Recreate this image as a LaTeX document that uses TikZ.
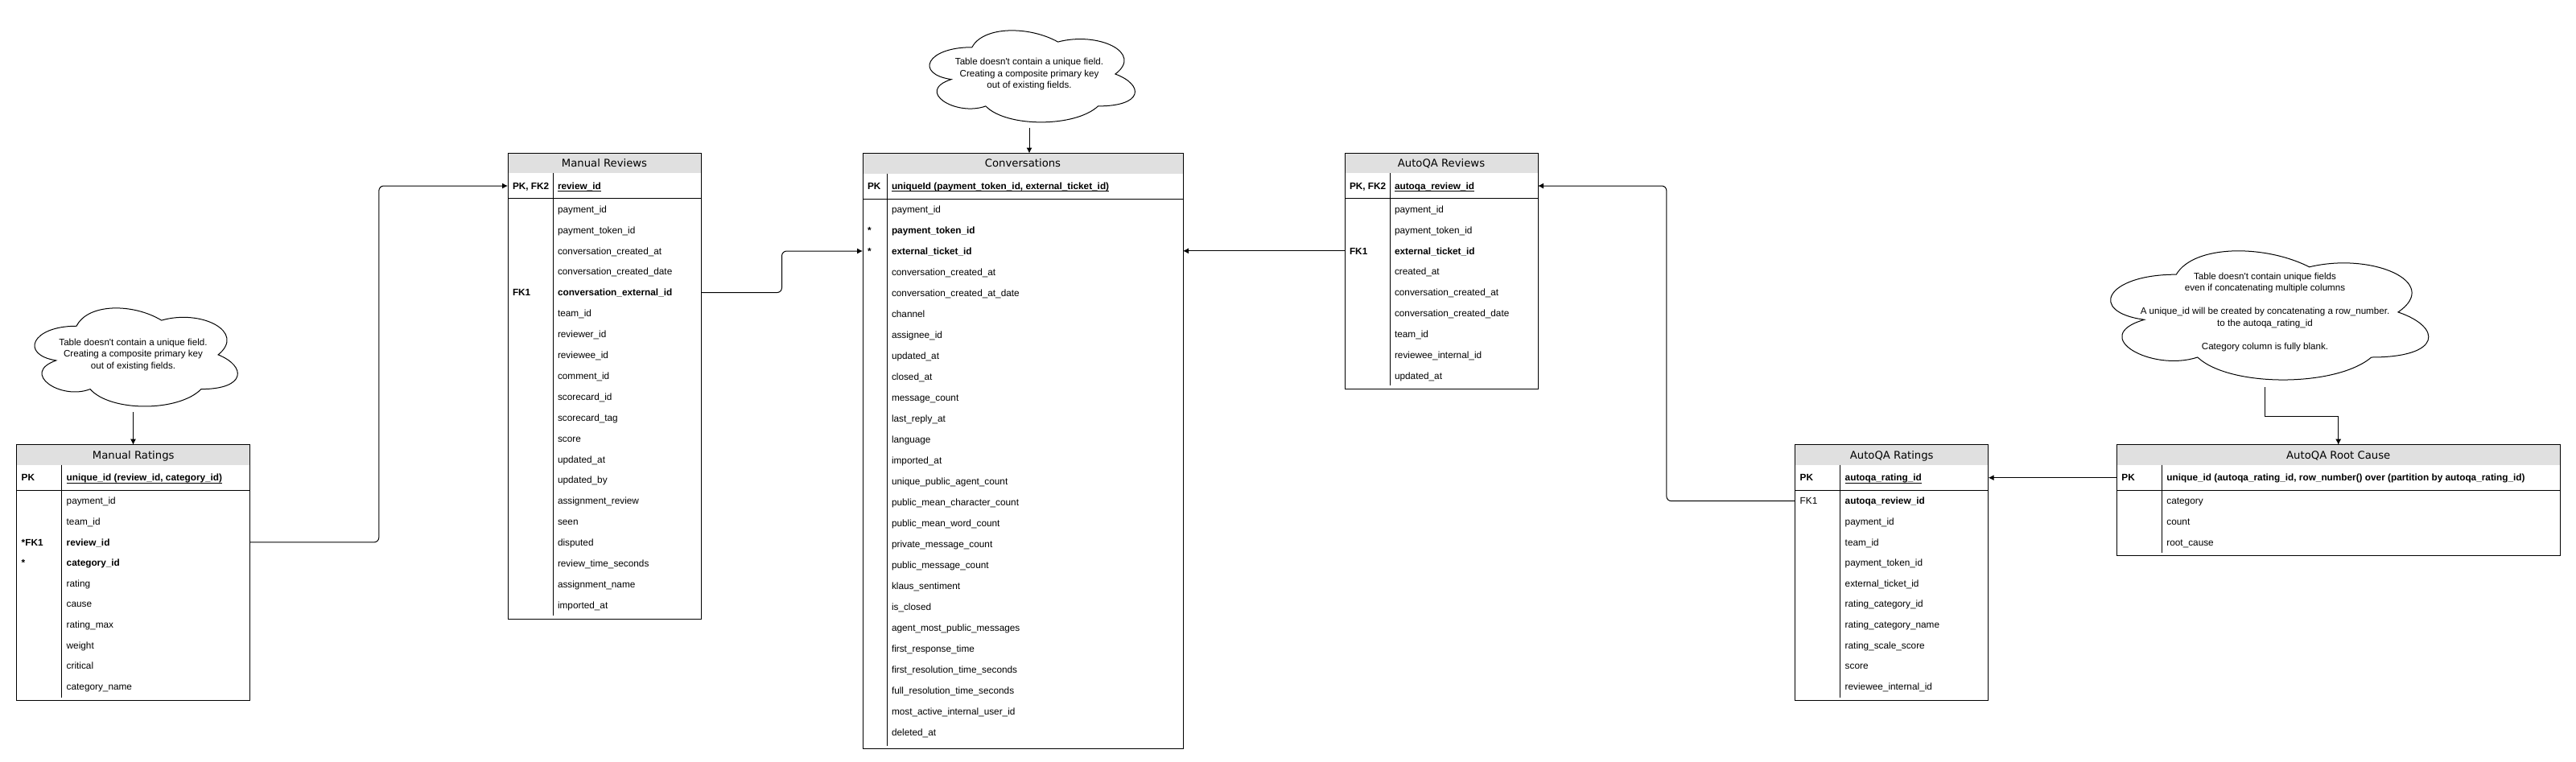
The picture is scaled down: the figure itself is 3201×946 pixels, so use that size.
\documentclass[tikz,border=0pt]{standalone}
\usepackage{fontspec}
\usepackage{tikz}
\usetikzlibrary{arrows.meta,calc}
\newfontfamily\tblfont{Liberation Sans}
\newfontfamily\headfont{DejaVu Sans}
\definecolor{headgray}{HTML}{E0E0E0}
\newsavebox{\pkbox}
\newcommand{\pkfield}[1]{\sbox{\pkbox}{#1}\rlap{\rule[-2.6pt]{\wd\pkbox}{0.9pt}}\usebox{\pkbox}}
\tikzset{%
  >={Latex[width=7pt,length=7pt]},
  % Specifications for style of nodes:
       tblhead/.style = {rectangle, anchor=north west, fill=headgray,
                         minimum height=25pt, text height=9.6pt, text depth=0pt,
                         font=\headfont\fontsize{13.2}{16}\selectfont},
        tblbox/.style = {rectangle, anchor=north west, draw=black},
        fldtxt/.style = {anchor=west, text height=8.4pt, text depth=0pt,
                         font=\tblfont\fontsize{11.8}{14}\selectfont},
        keytxt/.style = {fldtxt, xshift=6pt,
                         font=\tblfont\fontsize{11.8}{14}\selectfont\bfseries},
       notebox/.style = {rectangle, anchor=north west, align=center,
                         font=\tblfont\fontsize{11.6}{14.5}\selectfont},
  cloud outline/.style = {insert path={(0.25,0.25) .. controls (0.05,0.25) and (0,0.5) .. (0.16,0.55)
                          .. controls (0,0.66) and (0.18,0.9) .. (0.31,0.8)
                          .. controls (0.4,1) and (0.7,1) .. (0.8,0.8)
                          .. controls (1,0.8) and (1,0.6) .. (0.875,0.5)
                          .. controls (1,0.3) and (0.8,0.1) .. (0.625,0.2)
                          .. controls (0.5,0.05) and (0.3,0.05) .. (0.25,0.25) -- cycle}},
}

\begin{document}
\begin{tikzpicture}[x=1pt, y=-1pt, line width=1pt,
    every node/.style={inner sep=0pt, outer sep=0pt}]
\useasboundingbox[fill=white] (0,0) rectangle (3201,946);

% Manual Ratings
\node (mratHead) at (20.7,552.7) [tblhead, minimum width=290] {Manual Ratings};
\node (mrat) at (mratHead.north west) [tblbox, minimum width=290, minimum height=318] {};
\draw ([yshift=-56.5]mrat.north west) -- ([yshift=-56.5]mrat.north east);
\draw ([xshift=56,yshift=-25]mrat.north west) -- ([xshift=56,yshift=4]mrat.south west);
\node (mratPk) at ([xshift=62,yshift=-41]mrat.north west) [fldtxt] {\textbf{\pkfield{unique\_id (review\_id, category\_id)}}};
\node at (mrat.west |- mratPk) [keytxt] {PK};
\foreach \fld [count=\i] in {payment\_id, team\_id, \textbf{review\_id}, \textbf{category\_id},
    rating, cause, rating\_max, weight, critical, category\_name}
  \node (mrat-\i) at ([xshift=62,yshift={-44.4-25.6*\i}]mrat.north west) [fldtxt] {\fld};
\node at (mrat.west |- mrat-3) [keytxt] {*FK1};
\node at (mrat.west |- mrat-4) [keytxt] {*};

% Manual Reviews
\node (mrevHead) at (631,190) [tblhead, minimum width=240] {Manual Reviews};
\node (mrev) at (mrevHead.north west) [tblbox, minimum width=240, minimum height=579] {};
\draw ([yshift=-56.5]mrev.north west) -- ([yshift=-56.5]mrev.north east);
\draw ([xshift=56,yshift=-25]mrev.north west) -- ([xshift=56,yshift=4]mrev.south west);
\node (mrevPk) at ([xshift=62,yshift=-41]mrev.north west) [fldtxt] {\textbf{\pkfield{review\_id}}};
\node at (mrev.west |- mrevPk) [keytxt] {PK, FK2};
\foreach \fld [count=\i] in {payment\_id, payment\_token\_id, conversation\_created\_at,
    conversation\_created\_date, \textbf{conversation\_external\_id}, team\_id, reviewer\_id,
    reviewee\_id, comment\_id, scorecard\_id, scorecard\_tag, score, updated\_at, updated\_by,
    assignment\_review, seen, disputed, review\_time\_seconds, assignment\_name, imported\_at}
  \node (mrev-\i) at ([xshift=62,yshift={-44.1-25.9*\i}]mrev.north west) [fldtxt] {\fld};
\node at (mrev.west |- mrev-5) [keytxt] {FK1};

% Conversations
\node (convHead) at (1072,190.5) [tblhead, minimum width=398] {Conversations};
\node (conv) at (convHead.north west) [tblbox, minimum width=398, minimum height=740] {};
\draw ([yshift=-56.5]conv.north west) -- ([yshift=-56.5]conv.north east);
\draw ([xshift=30,yshift=-25]conv.north west) -- ([xshift=30,yshift=4]conv.south west);
\node (convPk) at ([xshift=36,yshift=-41]conv.north west) [fldtxt] {\textbf{\pkfield{uniqueId (payment\_token\_id, external\_ticket\_id)}}};
\node at (conv.west |- convPk) [keytxt] {PK};
\foreach \fld [count=\i] in {payment\_id, \textbf{payment\_token\_id}, \textbf{external\_ticket\_id},
    conversation\_created\_at, conversation\_created\_at\_date, channel, assignee\_id, updated\_at,
    closed\_at, message\_count, last\_reply\_at, language, imported\_at, unique\_public\_agent\_count,
    public\_mean\_character\_count, public\_mean\_word\_count, private\_message\_count,
    public\_message\_count, klaus\_sentiment, is\_closed, agent\_most\_public\_messages,
    first\_response\_time, first\_resolution\_time\_seconds, full\_resolution\_time\_seconds,
    most\_active\_internal\_user\_id, deleted\_at}
  \node (conv-\i) at ([xshift=36,yshift={-43.5-26*\i}]conv.north west) [fldtxt] {\fld};
\node at (conv.west |- conv-2) [keytxt] {*};
\node at (conv.west |- conv-3) [keytxt] {*};

% AutoQA Reviews
\node (arevHead) at (1671,190) [tblhead, minimum width=240] {AutoQA Reviews};
\node (arev) at (arevHead.north west) [tblbox, minimum width=240, minimum height=293] {};
\draw ([yshift=-56.5]arev.north west) -- ([yshift=-56.5]arev.north east);
\draw ([xshift=56,yshift=-25]arev.north west) -- ([xshift=56,yshift=4]arev.south west);
\node (arevPk) at ([xshift=62,yshift=-41]arev.north west) [fldtxt] {\textbf{\pkfield{autoqa\_review\_id}}};
\node at (arev.west |- arevPk) [keytxt] {PK, FK2};
\foreach \fld [count=\i] in {payment\_id, payment\_token\_id, \textbf{external\_ticket\_id},
    created\_at, conversation\_created\_at, conversation\_created\_date, team\_id,
    reviewee\_internal\_id, updated\_at}
  \node (arev-\i) at ([xshift=62,yshift={-44.1-25.9*\i}]arev.north west) [fldtxt] {\fld};
\node at (arev.west |- arev-3) [keytxt] {FK1};

% AutoQA Ratings
\node (aratHead) at (2230.7,552.7) [tblhead, minimum width=240] {AutoQA Ratings};
\node (arat) at (aratHead.north west) [tblbox, minimum width=240, minimum height=318] {};
\draw ([yshift=-56.5]arat.north west) -- ([yshift=-56.5]arat.north east);
\draw ([xshift=56,yshift=-25]arat.north west) -- ([xshift=56,yshift=4]arat.south west);
\node (aratPk) at ([xshift=62,yshift=-41]arat.north west) [fldtxt] {\textbf{\pkfield{autoqa\_rating\_id}}};
\node at (arat.west |- aratPk) [keytxt] {PK};
\foreach \fld [count=\i] in {\textbf{autoqa\_review\_id}, payment\_id, team\_id, payment\_token\_id,
    external\_ticket\_id, rating\_category\_id, rating\_category\_name, rating\_scale\_score,
    score, reviewee\_internal\_id}
  \node (arat-\i) at ([xshift=62,yshift={-44.4-25.6*\i}]arat.north west) [fldtxt] {\fld};
\node at (arat.west |- arat-1) [fldtxt, xshift=6pt] {FK1};

% AutoQA Root Cause
\node (rootHead) at (2630.4,552.7) [tblhead, minimum width=550.6] {AutoQA Root Cause};
\node (root) at (rootHead.north west) [tblbox, minimum width=550.6, minimum height=138] {};
\draw ([yshift=-56.5]root.north west) -- ([yshift=-56.5]root.north east);
\draw ([xshift=56,yshift=-25]root.north west) -- ([xshift=56,yshift=4]root.south west);
\node (rootPk) at ([xshift=62,yshift=-41]root.north west) [fldtxt] {\textbf{unique\_id (autoqa\_rating\_id, row\_number() over (partition by autoqa\_rating\_id)}};
\node at (root.west |- rootPk) [keytxt] {PK};
\foreach \fld [count=\i] in {category, count, root\_cause}
  \node (root-\i) at ([xshift=62,yshift={-44.4-25.6*\i}]root.north west) [fldtxt] {\fld};

% Notes (clouds)
\node (ratNote) at (24.7,369.6) [notebox, minimum width=281.6, minimum height=142.5]
  {Table doesn't contain a unique field.\\Creating a composite primary key\\out of existing fields.};
\draw[shift={(ratNote.north west)}, xscale=281.6, yscale=142.5, cloud outline];
\node (convNote) at (1136.5,25.5) [notebox, minimum width=285, minimum height=133]
  {Table doesn't contain a unique field.\\Creating a composite primary key\\out of existing fields.};
\draw[shift={(convNote.north west)}, xscale=285, yscale=133, cloud outline];
\node (rootNote) at (2594,294.4) [notebox, minimum width=441, minimum height=187]
  {Table doesn't contain unique fields\\even if concatenating multiple columns\\[14.5pt]A unique\_id will be created by concatenating a row\_number.\\to the autoqa\_rating\_id\\[14.5pt]Category column is fully blank.};
\draw[shift={(rootNote.north west)}, xscale=441, yscale=187, cloud outline];

% Connectors
\coordinate (mratElbow) at ($(mrat.east)!0.5!(mrev.west)$);
\draw[->, rounded corners=6pt] (mrat.east |- mrat-3) -| (mratElbow |- mrevPk) -- (mrev.west |- mrevPk);
\coordinate (mrevElbow) at ($(mrev.east)!0.5!(conv.west)$);
\draw[->, rounded corners=6pt] (mrev.east |- mrev-5) -| (mrevElbow |- conv-3) -- (conv.west |- conv-3);
\draw[->] (arev.west |- arev-3) -- (conv.east |- arev-3);
\coordinate (aratElbow) at ($(arev.east)!0.5!(arat.west)$);
\draw[->, rounded corners=6pt] (arat.west |- arat-1) -| (aratElbow |- arevPk) -- (arev.east |- arevPk);
\draw[->] (root.west |- rootPk) -- (arat.east |- rootPk);

\draw[->] (ratNote.south) -- (ratNote.south |- mrat.north);
\draw[->] (convNote.south) -- (convNote.south |- conv.north);
\coordinate (rootElbow) at ($(rootNote.south)!0.5!(root.north)$);
\draw[->] (rootNote.south) |- (rootElbow) -| (root.north);
\end{tikzpicture}
\end{document}
